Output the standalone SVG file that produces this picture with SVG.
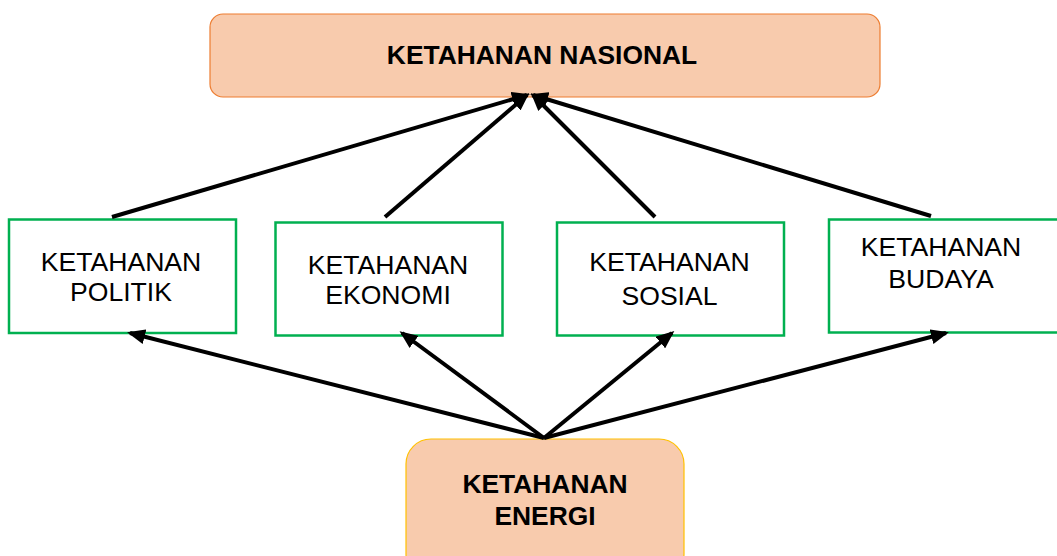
<svg xmlns="http://www.w3.org/2000/svg" width="1057" height="556" viewBox="0 0 1057 556">
<style>
.main{fill:#F8CBAD;stroke-width:1.2}
.sub{fill:#FFFFFF;stroke:#00B050;stroke-width:2.5}
.t{font-family:"Liberation Sans",Arial,sans-serif;font-size:26.6px;fill:#000;text-anchor:middle}
.b{font-weight:bold;font-size:26.4px}
.c{stroke:#000;stroke-width:4;fill:none;marker-end:url(#ah)}
</style>
<defs>
<marker id="ah" markerUnits="userSpaceOnUse" viewBox="0 0 18 15" markerWidth="18" markerHeight="15" refX="15" refY="7.5" orient="auto">
<path d="M0,0 L18,7.5 L0,15 z" fill="#000"/>
</marker>
</defs>
<rect width="1057" height="556" fill="#FFFFFF"/>
<g id="nasional">
<rect class="main" x="210" y="14" width="670" height="83" rx="13" stroke="#ED7D31"/>
<text class="t b" x="542" y="63.5">KETAHANAN NASIONAL</text>
</g>
<g id="politik">
<rect class="sub" x="9" y="219.5" width="227" height="113.5"/>
<text class="t" x="121" y="271">KETAHANAN</text>
<text class="t" x="121" y="301">POLITIK</text>
</g>
<g id="ekonomi">
<rect class="sub" x="275.5" y="222.5" width="227" height="113"/>
<text class="t" x="388" y="274">KETAHANAN</text>
<text class="t" x="388" y="304">EKONOMI</text>
</g>
<g id="sosial">
<rect class="sub" x="557" y="222.5" width="227" height="113"/>
<text class="t" x="669.5" y="271">KETAHANAN</text>
<text class="t" x="669.5" y="305">SOSIAL</text>
</g>
<g id="budaya">
<rect class="sub" x="829" y="219.5" width="240" height="113"/>
<text class="t" x="941" y="256">KETAHANAN</text>
<text class="t" x="941" y="288">BUDAYA</text>
</g>
<g id="energi">
<rect class="main" x="406" y="439" width="278" height="140" rx="25" stroke="#FFC000"/>
<text class="t b" x="545" y="493">KETAHANAN</text>
<text class="t b" x="545" y="525">ENERGI</text>
</g>
<g id="connectors">
<line class="c" x1="112" y1="217" x2="527" y2="95"/>
<line class="c" x1="385" y1="217" x2="527" y2="95"/>
<line class="c" x1="655" y1="217" x2="533" y2="95"/>
<line class="c" x1="931" y1="216" x2="533" y2="95"/>
<line class="c" x1="544" y1="438" x2="130" y2="333"/>
<line class="c" x1="544" y1="438" x2="402" y2="333"/>
<line class="c" x1="544" y1="438" x2="672" y2="333"/>
<line class="c" x1="544" y1="438" x2="946" y2="333"/>
</g>
</svg>
